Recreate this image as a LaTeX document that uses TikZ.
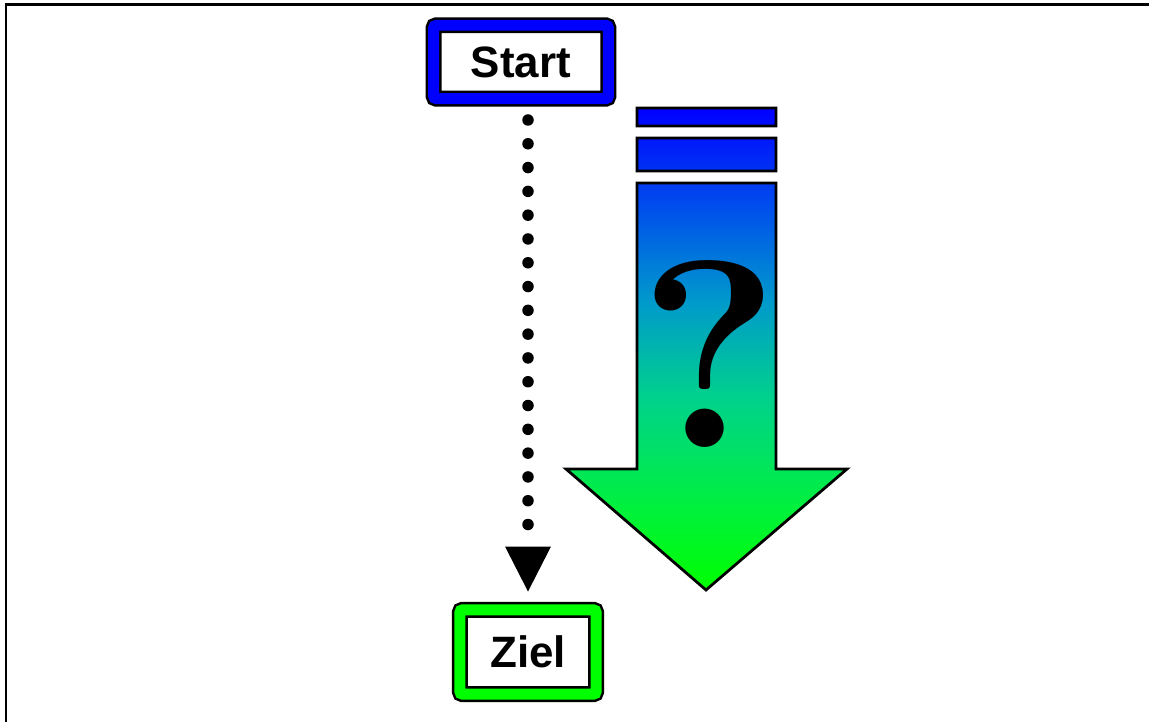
\documentclass[tikz,border=0pt]{standalone}
\usepackage{fontspec}
\setsansfont{Liberation Sans}
\usetikzlibrary{arrows.meta}

% blue at the top, green at the tip
\pgfdeclareverticalshading{bluegreen}{100bp}{rgb(0bp)=(0,1,0); rgb(25bp)=(0,1,0); rgb(34bp)=(0,0.94,0.25); rgb(45bp)=(0,0.82,0.55); rgb(55bp)=(0,0.6,0.8); rgb(65bp)=(0,0.3,0.93); rgb(75bp)=(0,0,1); rgb(100bp)=(0,0,1)}

\begin{document}
\begin{tikzpicture}[x=0.02cm, y=-0.02cm,
	box/.style={draw=black, line width=0.05cm, double distance=0.22cm, rounded corners=0.06cm, fill=white, inner sep=0pt, font=\sffamily\bfseries\fontsize{25}{25}\selectfont}]
	\useasboundingbox (0,0) rectangle (1149,722);
	\draw[line width=0.06cm] (1149,5) -- (6,5) -- (6,722);

	\node[box, double=blue, minimum width=3.5cm, minimum height=1.47cm] (start) at (521,62) {Start};
	\node[box, double=green, minimum width=2.73cm, minimum height=1.69cm] (ziel) at (528,652) {Ziel};

	\draw[line width=0.23cm, line cap=round, dash pattern=on 0cm off 0.476cm, shorten <=0.4cm, shorten >=0.34cm, -{Triangle[width=0.92cm, length=0.9cm, line width=0pt]}]
	(start.south -| ziel.north) -- (ziel.north);

	% the big arrow with its two bars
	\path[draw=black, line width=0.055cm, shade, shading=bluegreen]
	(637,108) rectangle (776,126)
	(637,138) rectangle (776,171)
	(637,183) -- (776,183) -- (776,469) -- (847,469) -- (706,590) -- (566,469) -- (637,469) -- cycle;
	\node[anchor=base, inner sep=0pt, font=\bfseries\fontsize{152}{152}\selectfont] (ask) at (709,448) {?};
\end{tikzpicture}
\end{document}
